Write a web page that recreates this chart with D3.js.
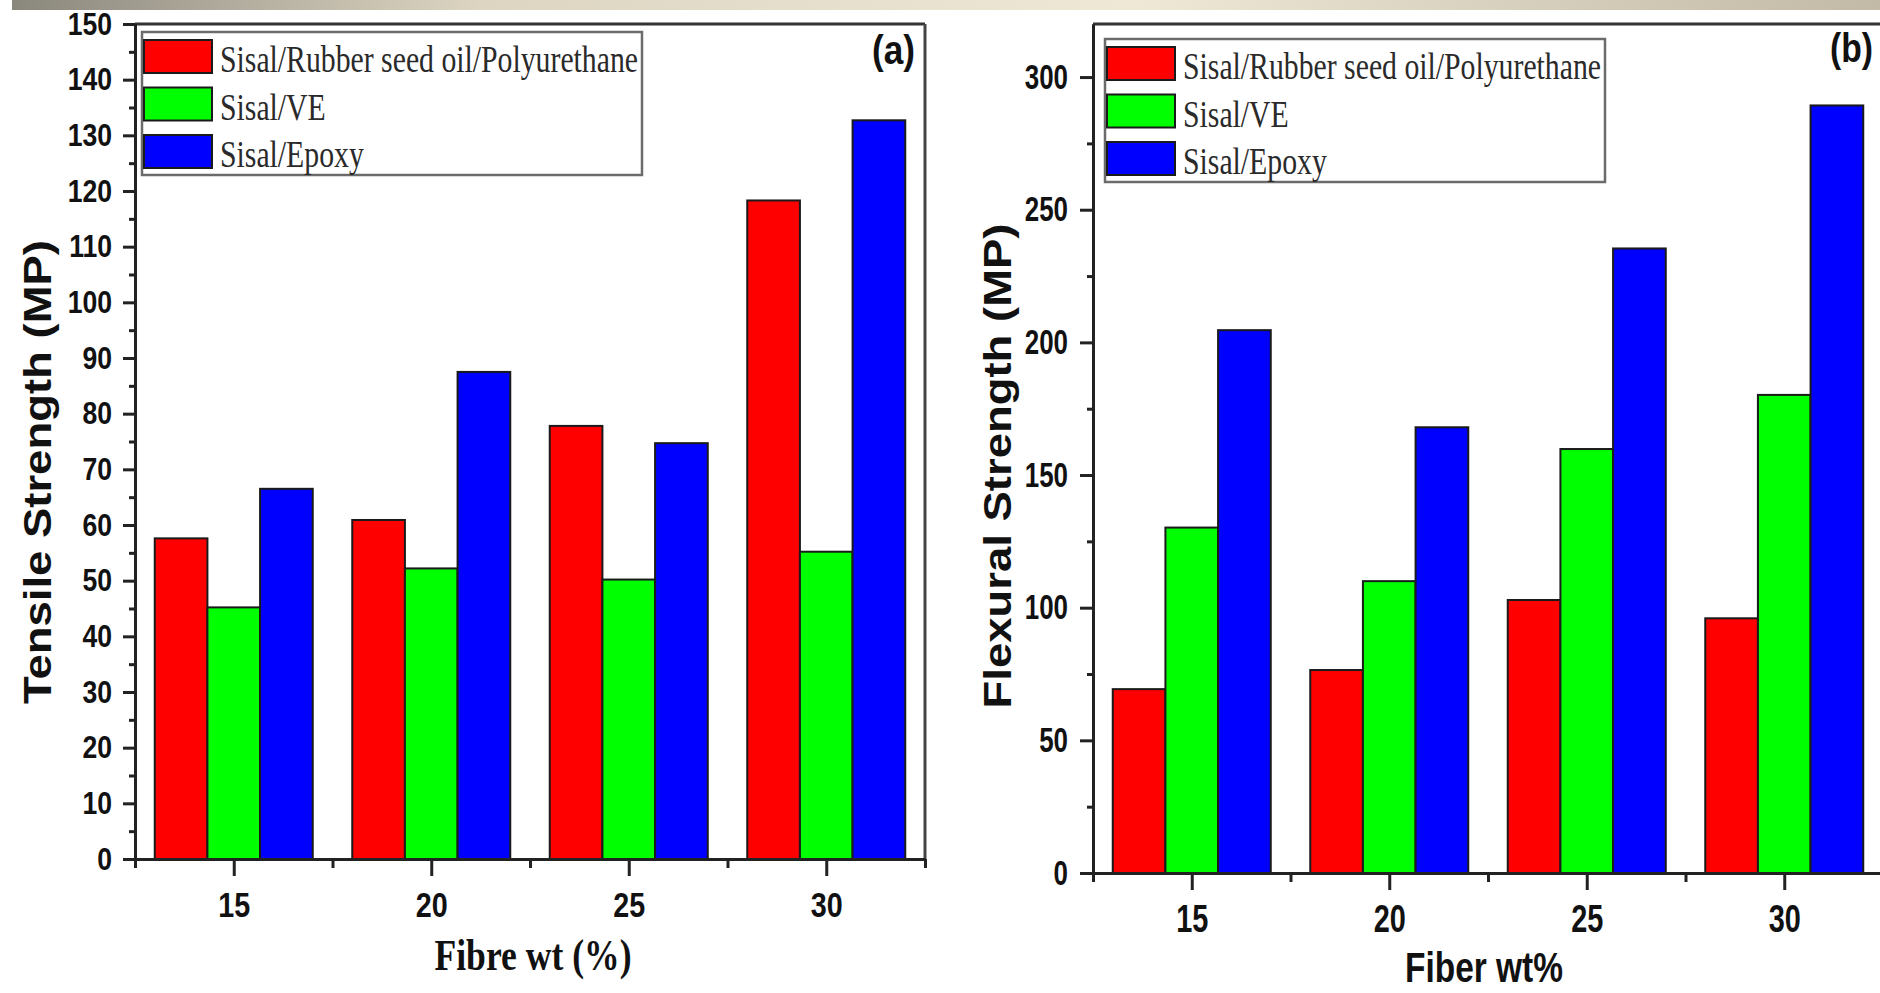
<!DOCTYPE html>
<html>
  <head>
    <meta charset="utf-8">
    <title>Tensile and flexural strength of sisal composites</title>
    <style>
      body { margin: 0; background-color: white; }
      svg { display: block; }
    </style>
    <script src="https://d3js.org/d3.v7.min.js"></script>
  </head>
  <body>
    <svg id="chart" width="1880" height="993"></svg>
    <script>
      // data
      var categories = [15, 20, 25, 30];
      var seriesNames = ["Sisal/Rubber seed oil/Polyurethane", "Sisal/VE", "Sisal/Epoxy"];
      var seriesColors = ["#ff0000", "#00ff00", "#0000ff"];

      var tensileRubber = [57.6, 60.9, 77.8, 118.3];
      var tensileVE = [45.2, 52.2, 50.2, 55.2];
      var tensileEpoxy = [66.5, 87.5, 74.7, 132.7];

      var flexRubber = [69.3, 76.5, 102.9, 96.0];
      var flexVE = [130.2, 110.0, 159.8, 180.2];
      var flexEpoxy = [204.6, 168.0, 235.4, 289.3];

      var tensileTicks = [0, 10, 20, 30, 40, 50, 60, 70, 80, 90, 100, 110, 120, 130, 140, 150];
      var tensileMinor = [5, 15, 25, 35, 45, 55, 65, 75, 85, 95, 105, 115, 125, 135, 145];
      var flexTicks = [0, 50, 100, 150, 200, 250, 300];
      var flexMinor = [25, 75, 125, 175, 225, 275];
      var xMinor = [12.5, 17.5, 22.5, 27.5, 32.5];

      var sans = "'Liberation Sans', Arial, sans-serif";
      var serif = "'Liberation Serif', 'Times New Roman', serif";

      var svg = d3.select("#chart");

      // thin header band at the top
      var grad = svg.append("defs").append("linearGradient").attr("id", "band");
      grad.append("stop").attr("offset", "0").attr("stop-color", "#8a877c");
      grad.append("stop").attr("offset", "0.25").attr("stop-color", "#ddd5c2");
      grad.append("stop").attr("offset", "0.6").attr("stop-color", "#efe8d7");
      grad.append("stop").attr("offset", "1").attr("stop-color", "#c2b9a6");
      svg.append("rect").attr("x", 12).attr("y", 0).attr("width", 1868).attr("height", 10)
        .attr("fill", "url(#band)");

      function squeeze(sel, k) {
        sel.each(function() {
          var len = this.getComputedTextLength();
          d3.select(this).attr("textLength", len * k).attr("lengthAdjust", "spacingAndGlyphs");
        });
      }

      function drawPanel(p) {
        var x = d3.scaleLinear().domain([12.5, 32.5]).range([p.left, p.left + 790]);
        var y = d3.scaleLinear().domain([0, p.yMax]).range([p.bottom, p.top]);
        var g = svg.append("g");
        var bw = 4 / 3;

        // bars
        p.series.forEach(function(vals, si) {
          g.selectAll(null)
            .data(vals)
            .enter()
            .append("rect")
            .attr("x", function(d, i) { return x(categories[i] + (si - 1.5) * bw); })
            .attr("width", x(12.5 + bw) - x(12.5))
            .attr("y", function(d) { return y(d); })
            .attr("height", function(d) { return y(0) - y(d); })
            .attr("fill", seriesColors[si])
            .attr("stroke", "#1a1a1a")
            .attr("stroke-width", 2);
        });

        // frame
        g.append("line").attr("x1", x(12.5)).attr("x2", x(32.5)).attr("y1", p.top).attr("y2", p.top)
          .attr("stroke", "#333").attr("stroke-width", 3);
        g.append("line").attr("x1", x(32.5)).attr("x2", x(32.5)).attr("y1", p.top).attr("y2", p.bottom)
          .attr("stroke", "#444").attr("stroke-width", 3);

        // y axis
        var yMinorAxis = g.append("g").attr("transform", "translate(" + p.left + ",0)")
          .call(d3.axisLeft(y).tickValues(p.minor).tickSize(6).tickSizeOuter(0).tickFormat(""));
        var yAxis = g.append("g").attr("transform", "translate(" + p.left + ",0)")
          .call(d3.axisLeft(y).tickValues(p.ticks).tickSize(p.ySize).tickPadding(p.yPad).tickSizeOuter(0));
        yAxis.selectAll("text").attr("font-family", sans).attr("font-weight", "bold")
          .attr("font-size", p.yFont).attr("fill", "#111");
        squeeze(yAxis.selectAll("text"), p.ySqueeze);

        // x axis
        var xMinorAxis = g.append("g").attr("transform", "translate(0," + p.bottom + ")")
          .call(d3.axisBottom(x).tickValues(xMinor).tickSize(9).tickSizeOuter(0).tickFormat(""));
        var xAxis = g.append("g").attr("transform", "translate(0," + p.bottom + ")")
          .call(d3.axisBottom(x).tickValues(categories).tickSize(17).tickPadding(p.xPad).tickSizeOuter(0));
        xAxis.selectAll("text").attr("font-family", sans).attr("font-weight", "bold")
          .attr("font-size", p.xFont).attr("fill", "#111");
        squeeze(xAxis.selectAll("text"), p.xSqueeze);

        [yMinorAxis, yAxis, xMinorAxis, xAxis].forEach(function(a) {
          a.selectAll("path, line").attr("stroke", "#222").attr("stroke-width", 3);
        });

        // axis titles
        g.append("text")
          .attr("transform", "translate(" + p.yTitleX + "," + p.yTitleY + ") rotate(-90)")
          .attr("text-anchor", "middle")
          .attr("font-family", sans).attr("font-weight", "bold").attr("font-size", 38)
          .attr("fill", "#111")
          .attr("textLength", p.yTitleLen).attr("lengthAdjust", "spacingAndGlyphs")
          .text(p.yTitle);
        g.append("text")
          .attr("x", p.xTitleX).attr("y", p.xTitleY)
          .attr("text-anchor", "middle")
          .attr("font-family", p.xTitleFont).attr("font-weight", "bold").attr("font-size", p.xTitleSize)
          .attr("fill", "#111")
          .attr("textLength", p.xTitleLen).attr("lengthAdjust", "spacingAndGlyphs")
          .text(p.xTitle);

        // panel letter
        g.append("text")
          .attr("x", p.tagX).attr("y", p.tagY)
          .attr("text-anchor", "end")
          .attr("font-family", sans).attr("font-weight", "bold").attr("font-size", 40)
          .attr("fill", "#111")
          .attr("textLength", 43).attr("lengthAdjust", "spacingAndGlyphs")
          .text(p.tag);

        // legend
        var lg = g.append("g").attr("transform", "translate(" + p.legX + "," + p.legY + ")");
        lg.append("rect").attr("width", 500).attr("height", 143)
          .attr("fill", "white").attr("stroke", "#6b6b6b").attr("stroke-width", 2.5);
        seriesNames.forEach(function(name, i) {
          lg.append("rect")
            .attr("x", 2).attr("y", 8 + i * 47.5)
            .attr("width", 68).attr("height", 33)
            .attr("fill", seriesColors[i]).attr("stroke", "#1a1a1a").attr("stroke-width", 2);
        });
        var labels = lg.selectAll("text.leg")
          .data(seriesNames)
          .enter()
          .append("text")
          .attr("class", "leg")
          .attr("x", 78)
          .attr("y", function(d, i) { return 40 + i * 47.5; })
          .attr("font-family", serif).attr("font-size", 38).attr("fill", "#2a2a2a")
          .text(function(d) { return d; });
        var k = 418 / labels.node().getComputedTextLength();
        squeeze(labels, k);
      }

      drawPanel({
        left: 135, top: 24, bottom: 859, yMax: 150,
        series: [tensileRubber, tensileVE, tensileEpoxy],
        ticks: tensileTicks, minor: tensileMinor,
        ySize: 12, yPad: 11, yFont: 32, ySqueeze: 0.83,
        xPad: 16, xFont: 35, xSqueeze: 0.82,
        yTitle: "Tensile Strength (MP)", yTitleX: 51, yTitleY: 472, yTitleLen: 464,
        xTitle: "Fibre wt (%)", xTitleX: 533, xTitleY: 970, xTitleFont: serif, xTitleSize: 44, xTitleLen: 197,
        tag: "(a)", tagX: 915, tagY: 64,
        legX: 142, legY: 32
      });

      drawPanel({
        left: 1093, top: 24, bottom: 873, yMax: 320,
        series: [flexRubber, flexVE, flexEpoxy],
        ticks: flexTicks, minor: flexMinor,
        ySize: 13, yPad: 12, yFont: 35, ySqueeze: 0.74,
        xPad: 14, xFont: 39, xSqueeze: 0.74,
        yTitle: "Flexural Strength (MP)", yTitleX: 1011, yTitleY: 466, yTitleLen: 485,
        xTitle: "Fiber wt%", xTitleX: 1484, xTitleY: 982, xTitleFont: sans, xTitleSize: 42, xTitleLen: 158,
        tag: "(b)", tagX: 1873, tagY: 62,
        legX: 1105, legY: 39
      });
    </script>
  </body>
</html>
